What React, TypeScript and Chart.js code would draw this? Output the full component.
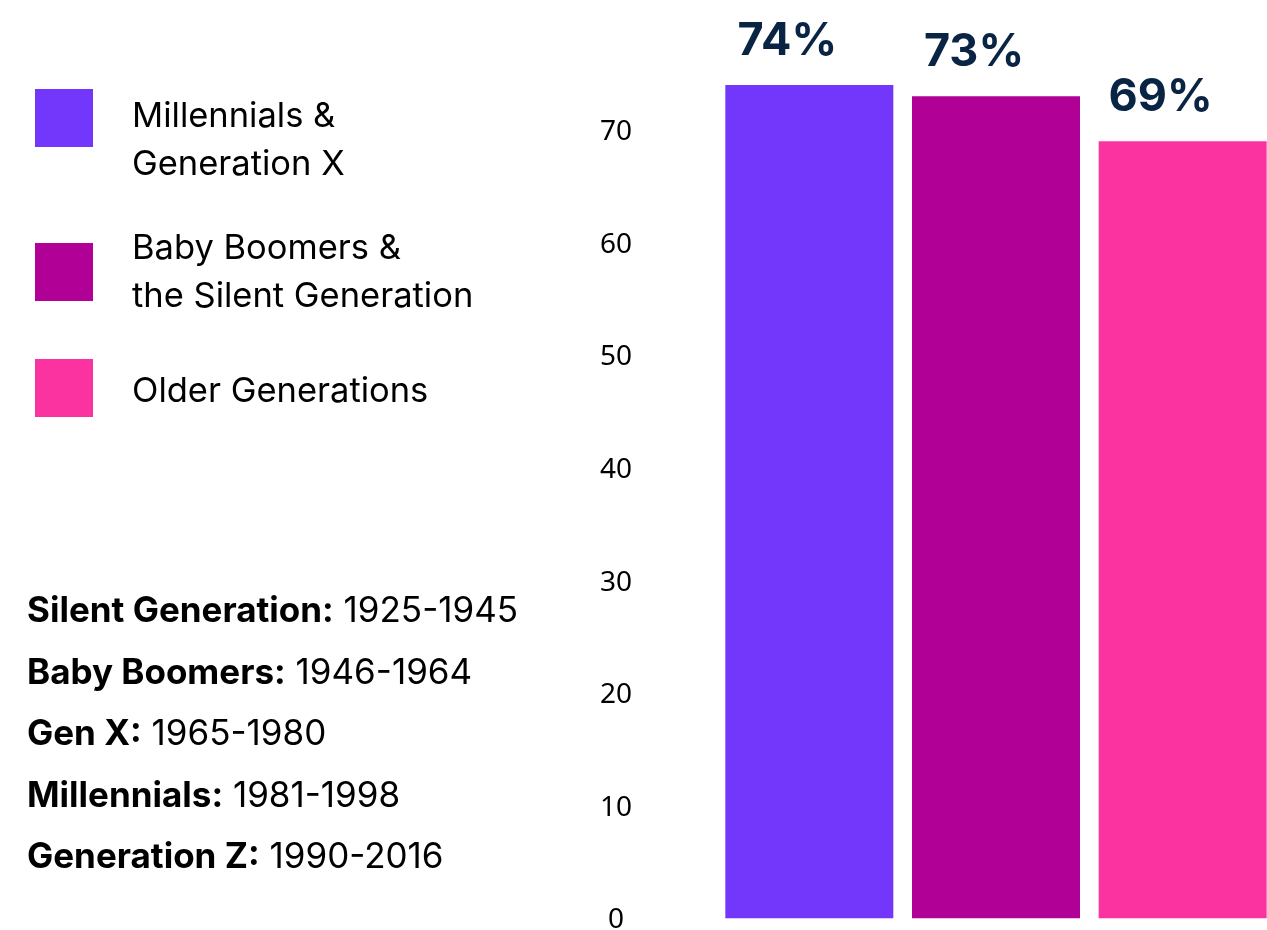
import React, { useEffect, useRef } from "react";
import { Chart, registerables } from "chart.js";

Chart.register(...registerables);

const categories = ["Millennials & Generation X", "Baby Boomers & the Silent Generation", "Older Generations"];
const legendLines = [["Millennials &", "Generation X"], ["Baby Boomers &", "the Silent Generation"], ["Older Generations"]];
const values = [74, 73, 69];
const barColors = ["#7337FB", "#B10096", "#FB33A0"];
const yTicks = [0, 10, 20, 30, 40, 50, 60, 70];
const genNames = ["Silent Generation:", "Baby Boomers:", "Gen X:", "Millennials:", "Generation Z:"];
const genYears = ["1925-1945", "1946-1964", "1965-1980", "1981-1998", "1990-2016"];

const legendTops = [91, 223, 366];
const squareTops = [89, 243, 359];

const labelPlugin = {
  id: "valueLabels",
  afterDatasetsDraw(chart: any) {
    const ctx = chart.ctx;
    const meta = chart.getDatasetMeta(0);
    ctx.save();
    ctx.font = "700 45px Inter";
    ctx.fillStyle = "#0A2444";
    ctx.textAlign = "center";
    ctx.textBaseline = "alphabetic";
    meta.data.forEach((bar: any, i: number) => {
      ctx.fillText(values[i] + "%", bar.x - 22, bar.y - 30);
    });
    ctx.restore();
  },
};

export default function App() {
  const ref = useRef<HTMLCanvasElement>(null);
  useEffect(() => {
    if (!ref.current) return;
    const chart = new Chart(ref.current, {
      type: "bar",
      data: {
        labels: categories,
        datasets: [
          {
            data: values,
            backgroundColor: barColors,
            categoryPercentage: 1,
            barPercentage: 0.9,
          },
        ],
      },
      options: {
        animation: false,
        responsive: true,
        maintainAspectRatio: false,
        layout: { padding: { top: 85, bottom: 41.5, right: 24, left: 0 } },
        plugins: { legend: { display: false }, tooltip: { enabled: false } },
        scales: {
          x: { display: false },
          y: {
            min: 0,
            max: 74,
            afterFit(scale: any) {
              scale.width = 716;
              scale.paddingTop = 0;
              scale.paddingBottom = 0;
            },
            afterBuildTicks(scale: any) {
              scale.ticks = yTicks.map((v) => ({ value: v }));
            },
            grid: { display: false, drawTicks: false },
            border: { display: false },
            ticks: {
              crossAlign: "center",
              padding: 84,
              labelOffset: 2,
              color: "#000",
              font: { family: "'Noto Sans'", size: 28 },
            },
          },
        },
      },
      plugins: [labelPlugin],
    });
    return () => chart.destroy();
  }, []);

  return (
    <div style={{ position: "absolute", left: 0, top: 0, width: 1267, height: 930, overflow: "hidden", background: "#fff", fontFamily: "Inter", color: "#000" }}>
      <div style={{ position: "absolute", left: 0, top: 0, width: 1300, height: 960 }}>
        <canvas ref={ref} />
      </div>
      {legendLines.map((lines, i) => (
        <React.Fragment key={i}>
          <div style={{ position: "absolute", left: 35, top: squareTops[i], width: 58, height: 58, background: barColors[i] }} />
          <div style={{ position: "absolute", left: 132, top: legendTops[i], fontSize: 34.5, lineHeight: "48px", whiteSpace: "nowrap" }}>
            {lines.map((l, j) => (
              <div key={j}>{l}</div>
            ))}
          </div>
        </React.Fragment>
      ))}
      <div style={{ position: "absolute", left: 27, top: 579, fontSize: 35, lineHeight: "61.5px", whiteSpace: "nowrap" }}>
        {genNames.map((n, i) => (
          <div key={i}>
            <b style={{ fontWeight: 700 }}>{n}</b> {genYears[i]}
          </div>
        ))}
      </div>
    </div>
  );
}
